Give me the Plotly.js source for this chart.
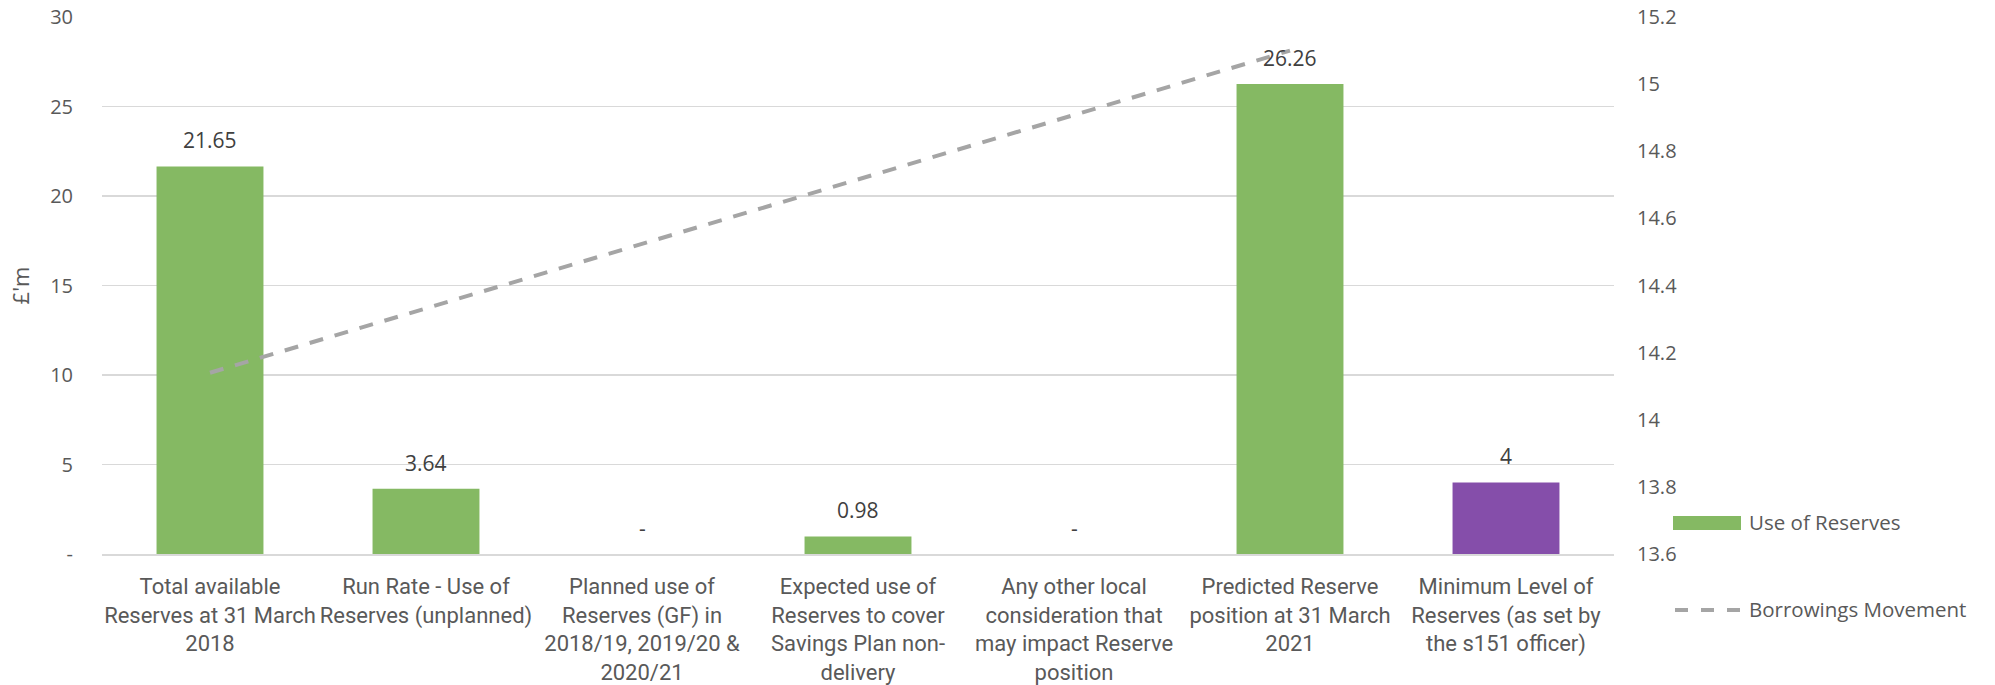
<!DOCTYPE html>
<html>
<head>
<meta charset="utf-8">
<script src="https://cdn.plot.ly/plotly-3.0.1.min.js"></script>
<style>
  html, body { margin: 0; padding: 0; background: #fff; }
  #chart { width: 1995px; height: 685px; }
</style>
</head>
<body>
<div id="chart"></div>
<script>
// Reserve categories (x axis)
const categories = [
  "Total available<br>Reserves at 31 March<br>2018",
  "Run Rate - Use of<br>Reserves (unplanned)",
  "Planned use of<br>Reserves (GF) in<br>2018/19, 2019/20 &<br>2020/21",
  "Expected use of<br>Reserves to cover<br>Savings Plan non-<br>delivery",
  "Any other local<br>consideration that<br>may impact Reserve<br>position",
  "Predicted Reserve<br>position at 31 March<br>2021",
  "Minimum Level of<br>Reserves (as set by<br>the s151 officer)"
];

// Use of Reserves (£'m)
const reserveValues = [21.65, 3.64, 0, 0.98, 0, 26.26, 4];
const reserveColors = ["#85B963", "#85B963", "#85B963", "#85B963", "#85B963", "#85B963", "#854EAA"];

// Borrowings Movement (secondary axis)
const borrowCategories = [categories[0], categories[5]];
const borrowValues = [14.14, 15.1];

// Left axis ticks
const leftTickVals = [0, 5, 10, 15, 20, 25, 30];
const leftTickText = ["-", "5", "10", "15", "20", "25", "30"];

const seriesNames = ["Use of Reserves", "Borrowings Movement"];

const numFamily = "Open Sans, DejaVu Sans, sans-serif";
const tickFont = { family: numFamily, size: 20, color: "#595959" };
const catFont = { family: "Liberation Sans Narrow, Roboto, sans-serif", size: 22, color: "#595959" };
const labelFont = { family: numFamily, size: 21, color: "#404040" };

const bars = {
  type: "bar",
  name: seriesNames[0],
  x: categories,
  y: reserveValues,
  marker: { color: reserveColors },
  showlegend: false,
  hoverinfo: "x+y"
};

const line = {
  type: "scatter",
  mode: "lines",
  name: seriesNames[1],
  x: borrowCategories,
  y: borrowValues,
  yaxis: "y2",
  line: { color: "#A5A5A5", width: 4, dash: "14px,12px" },
  showlegend: false
};

// Value labels above each bar ("-" for nil)
const valueLabels = reserveValues.map((v, i) => ({
  x: categories[i],
  y: v,
  xref: "x",
  yref: "y",
  text: v === 0 ? "-" : String(v),
  showarrow: false,
  yanchor: "middle",
  yshift: 26,
  font: labelFont
}));

// plot area in px: left 102, right 1614, top 17, bottom 554
const plotT = 17, plotB = 554, plotL = 102, plotR = 1614;
const pyOf = px => (plotB - px) / (plotB - plotT);
const pxOf = px => (px - plotL) / (plotR - plotL);

const legendItems = [
  {
    type: "rect", xref: "paper", yref: "paper",
    x0: pxOf(1673), x1: pxOf(1741), y0: pyOf(530), y1: pyOf(516),
    fillcolor: "#85B963", line: { width: 0 }
  },
  {
    type: "line", xref: "paper", yref: "paper",
    x0: pxOf(1675), x1: pxOf(1741), y0: pyOf(610), y1: pyOf(610),
    line: { color: "#A5A5A5", width: 4, dash: "13px,13px" }
  }
];

const legendText = [
  {
    xref: "paper", yref: "paper", x: pxOf(1747), y: pyOf(522),
    xanchor: "left", yanchor: "middle", showarrow: false,
    text: seriesNames[0], font: { family: numFamily, size: 20.5, color: "#595959" }
  },
  {
    xref: "paper", yref: "paper", x: pxOf(1747), y: pyOf(609),
    xanchor: "left", yanchor: "middle", showarrow: false,
    text: seriesNames[1], font: { family: numFamily, size: 20.5, color: "#595959" }
  }
];

const layout = {
  width: 1995,
  height: 685,
  margin: { l: plotL, r: 1995 - plotR, t: plotT, b: 685 - plotB },
  paper_bgcolor: "#ffffff",
  plot_bgcolor: "#ffffff",
  bargap: 0.505,
  showlegend: false,
  xaxis: {
    type: "category",
    tickfont: catFont,
    showline: true,
    linecolor: "#D9D9D9",
    linewidth: 1.5,
    ticks: "",
    ticklabelstandoff: 12,
    showgrid: false
  },
  yaxis: {
    range: [0, 30],
    tickvals: leftTickVals,
    ticktext: leftTickText,
    tickfont: tickFont,
    showgrid: true,
    gridcolor: "#D9D9D9",
    gridwidth: 1.5,
    zeroline: false,
    showline: false,
    ticks: "",
    ticklabelstandoff: 28,
    title: { text: "£'m", font: { family: numFamily, size: 22, color: "#595959" }, standoff: 14 }
  },
  yaxis2: {
    overlaying: "y",
    side: "right",
    range: [13.6, 15.2],
    dtick: 0.2,
    tick0: 13.6,
    tickfont: tickFont,
    showgrid: false,
    zeroline: false,
    showline: false,
    ticks: "",
    ticklabelstandoff: 22
  },
  shapes: legendItems,
  annotations: valueLabels.concat(legendText)
};

Plotly.newPlot("chart", [bars, line], layout, { displayModeBar: false, staticPlot: true });
</script>
</body>
</html>
